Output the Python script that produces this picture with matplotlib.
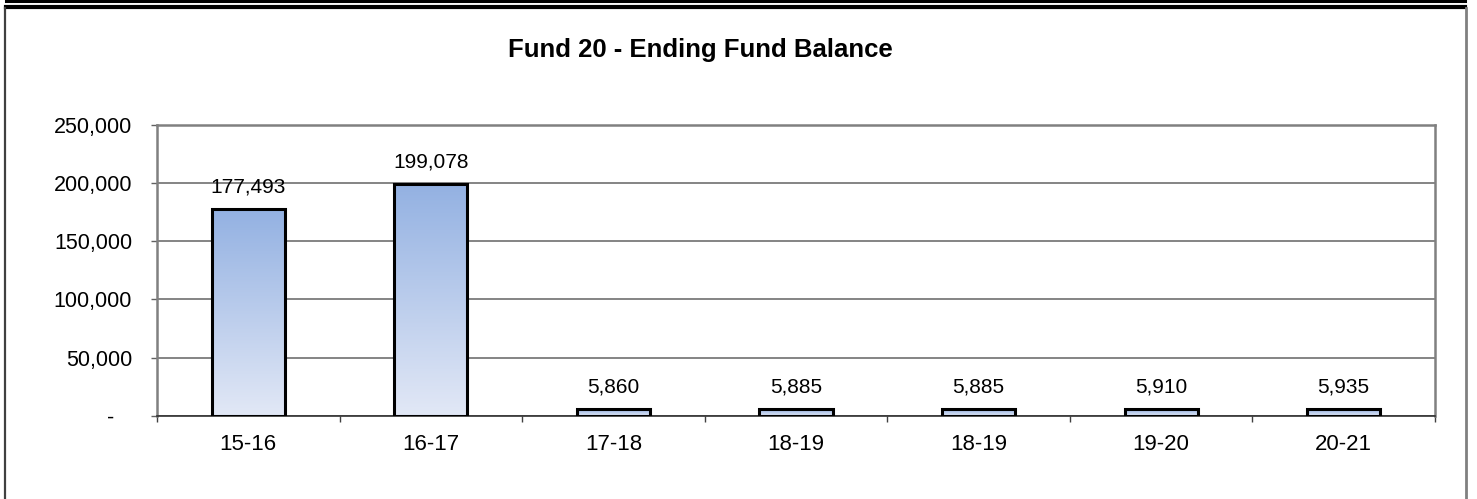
import matplotlib.pyplot as plt
import numpy as np
from matplotlib.colors import LinearSegmentedColormap
from matplotlib.lines import Line2D
from matplotlib.ticker import FuncFormatter

plt.rcParams['font.family'] = ['Liberation Sans', 'DejaVu Sans']

anos = ["15-16", "16-17", "17-18", "18-19", "18-19", "19-20", "20-21"]
saldo = [177493, 199078, 5860, 5885, 5885, 5910, 5935]
y_ticks = [0, 50000, 100000, 150000, 200000, 250000]

W, H = 1477, 499
fig = plt.figure(figsize=(W / 100, H / 100), dpi=100)
ax = fig.add_axes([157 / W, 1 - 416 / H, 1278 / W, (416 - 124.5) / H])

# gradiente azul de cada barra (claro embaixo, mais escuro em cima)
cmap = LinearSegmentedColormap.from_list("azul", ["#E2E8F6", "#93B1E2"])
grad = np.linspace(0, 1, 256).reshape(-1, 1)
larg = 0.4
x = np.arange(len(anos))
for xi, v in zip(x, saldo):
    ax.imshow(grad, cmap=cmap, origin="lower", aspect="auto",
              extent=(xi - larg / 2, xi + larg / 2, 0, v), zorder=2)
ax.bar(x, saldo, width=larg, fill=False, edgecolor="black", linewidth=2.2, zorder=3)

for xi, v in zip(x, saldo):
    ax.annotate(f"{v:,}", (xi, v), xytext=(0, 12), textcoords="offset points",
                ha="center", va="baseline", fontsize=15, zorder=4)

ax.set_xlim(-0.5, len(anos) - 0.5)
ax.set_ylim(0, 250000)
ax.set_yticks(y_ticks)
ax.yaxis.set_major_formatter(FuncFormatter(lambda v, p: "-   " if v == 0 else f"{v:,.0f}"))
ax.set_xticks(x)
ax.set_xticklabels(anos)
ax.set_xticks(np.arange(-0.5, len(anos)), minor=True)
ax.tick_params(axis="x", which="major", length=0, pad=13, labelsize=16)
ax.tick_params(axis="x", which="minor", length=4, width=1, color="#404040")
ax.tick_params(axis="y", length=4, width=1, color="#606060", pad=14, labelsize=15.5)

ax.grid(axis="y", color="#707070", linewidth=1.2, zorder=1)
ax.set_axisbelow(True)
for lado in ["left", "right", "top"]:
    ax.spines[lado].set_color("#808080")
    ax.spines[lado].set_linewidth(1.8)
ax.spines["bottom"].set_color("#303030")
ax.spines["bottom"].set_linewidth(1.2)

fig.text(700 / W, 1 - 50 / H, "Fund 20 - Ending Fund Balance", ha="center", va="center",
         fontsize=18.5, fontweight="bold")

# moldura da pagina: linha dupla preta no topo e bordas laterais
def px(xp, yp):
    return [v / W for v in xp], [1 - v / H for v in yp]

fig.add_artist(Line2D(*px([6, 1465], [1.2, 1.2]), color="black", linewidth=2.2))
fig.add_artist(Line2D(*px([6, 1465], [6.5, 6.5]), color="black", linewidth=3.0))
fig.add_artist(Line2D(*px([4.5, 4.5], [8, 499]), color="#404040", linewidth=1.6))
fig.add_artist(Line2D(*px([1465.5, 1465.5], [8, 499]), color="#808080", linewidth=2))

fig.savefig("out.png", dpi=100)
